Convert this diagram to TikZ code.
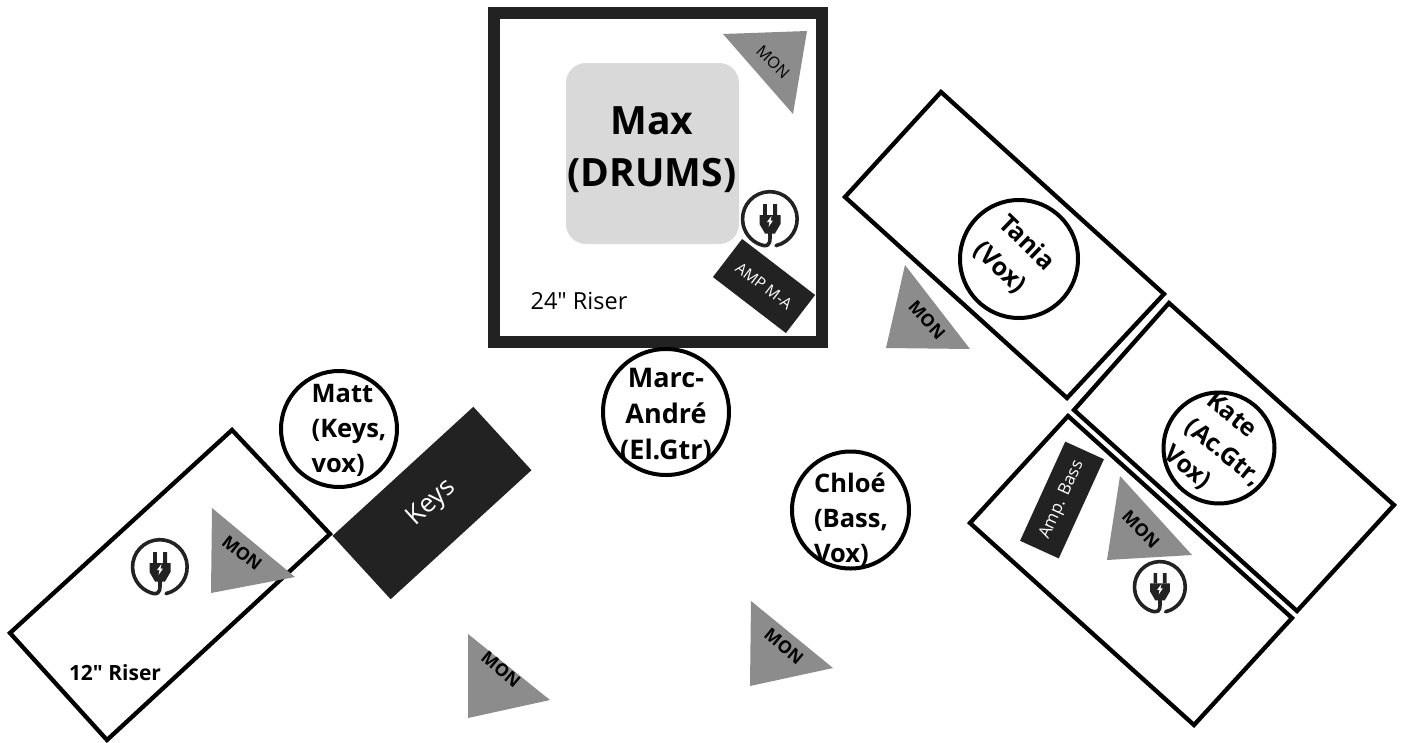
\documentclass[tikz,border=0pt]{standalone}
\usepackage{fontspec}
\setmainfont{Open Sans}
\newfontfamily\riserfont{Open Sans}
\tikzset{
	riser/.style={draw=black,line width=4.3pt,line join=miter,fill=white},
	ring/.style={circle,draw=black,line width=4pt,fill=white,inner sep=0pt},
	who/.style={text=black,inner sep=0pt,outer sep=0pt,align=left,font=\bfseries\fontsize{25.5}{35}\selectfont},
	mon/.style={fill=monColor},
	montext/.style={text=black,inner sep=0pt,outer sep=0pt,font=\bfseries\fontsize{17.5}{20}\selectfont},
	gear/.style={fill=gearColor,text=white,inner sep=0pt,outer sep=0pt,align=center},
	plugicon/.pic={
		\path[draw=gearColor,line width=3.6pt,line cap=round] (6,26.6) arc[start angle=77,end angle=-257,radius=27.3];
		\path[draw=gearColor,line width=3.6pt,line cap=round] (0,14) .. controls (0,21) and (1,27) .. (-6,26.6);
		\path[fill=gearColor] (-7,-15) rectangle (-3.2,-4) (3.2,-15) rectangle (7,-4);
		\path[fill=gearColor] (-10.5,-4) -- (10.5,-4) -- (10.5,5) -- (5,14.5) -- (-5,14.5) -- (-10.5,5) -- cycle;
		\path[fill=white] (1.5,-3) -- (-3,3) -- (-0.5,3) -- (-1.5,8) -- (3,1.5) -- (0.5,1.5) -- cycle;
	}
}
\begin{document}
\begin{tikzpicture}[x=1pt,y=-1pt]
\definecolor{gearColor}{RGB}{34,34,34}
\definecolor{monColor}{RGB}{140,140,140}
\definecolor{padColor}{RGB}{217,217,217}
\path[use as bounding box,fill=white] (0,0) rectangle (1406,742);

\path[draw=gearColor,line width=12pt,fill=white] (494,13) rectangle (822,342);

\path[fill=padColor,rounded corners=20pt] (566,63) rectangle (739,244);

\node[text=black,inner sep=0pt,outer sep=0pt,align=center,font=\bfseries\fontsize{39}{52}\selectfont] (max) at (652,150) {Max\\(DRUMS)};

\path[mon] (723,34) -- (807,31) -- (793,114) -- cycle;

\node[text=black,rotate=-44,inner sep=0pt,outer sep=0pt,font=\fontsize{16}{20}\selectfont] (monmax) at (773,62) {MON};

\pic at (770,219) {plugicon};

\node[gear,rotate=-37.5,minimum width=92pt,minimum height=48pt,font=\fontsize{15.5}{18}\selectfont] (ampma) at (764,286) {AMP M-A};

\node[text=black,inner sep=0pt,outer sep=0pt,font=\riserfont\fontsize{23.5}{28}\selectfont] (risertwo) at (579,301) {24" Riser};

\path[riser] (232,430) -- (330,534) -- (107,740) -- (10,633) -- cycle;

\node[text=black,inner sep=0pt,outer sep=0pt,font=\riserfont\bfseries\fontsize{21}{26}\selectfont] (riserone) at (115,673) {12" Riser};

\pic at (160,567) {plugicon};

\path[mon] (212,508) -- (295,577) -- (211,593) -- cycle;

\node[montext,rotate=-38] (monmatt) at (242,553) {MON};

\node[gear,rotate=42.5,minimum width=191pt,minimum height=86pt,font=\fontsize{26}{32}\selectfont] (keys) at (432,503) {Keys};

\node[ring,minimum size=116pt] (mattring) at (339,429) {};

\node[who] (matt) at (349,430) {Matt\\(Keys,\\vox)};

\node[ring,minimum size=126pt] (marcring) at (666,412) {};

\node[who,align=center,font=\bfseries\fontsize{27}{36}\selectfont] (marc) at (666,415.5) {Marc-\\André\\(El.Gtr)};

\node[ring,minimum size=117pt] (chloering) at (850.5,510) {};

\node[who] (chloe) at (851,519.5) {Chloé\\(Bass,\\Vox)};

\path[mon] (468,634) -- (550,700) -- (468,718) -- cycle;

\node[montext,rotate=-40] (monfloora) at (501,669) {MON};

\path[mon] (751,601) -- (833,668) -- (750,686) -- cycle;

\node[montext,rotate=-40] (monfloorb) at (784,646) {MON};

\path[riser] (941,92) -- (1164,294) -- (1067,398) -- (845,197) -- cycle;

\node[ring,minimum size=118pt] (taniaring) at (1019,259) {};

\node[who,rotate=-44,font=\bfseries\fontsize{25}{36}\selectfont] (tania) at (1014,256) {Tania\\(Vox)};

\path[mon] (905,265) -- (970,349) -- (886,348) -- cycle;

\node[montext,rotate=-48] (montania) at (927,320) {MON};

\path[riser] (1169,303) -- (1394,505) -- (1297,611) -- (1074,410) -- cycle;

\node[ring,minimum size=111pt] (katering) at (1219,448) {};

\node[who,rotate=-39,font=\bfseries\fontsize{24.5}{34}\selectfont] (kate) at (1223,453) {Kate\\(Ac.Gtr,\\Vox)};

\path[riser] (1068,416) -- (1292,618) -- (1194,725) -- (970,523) -- cycle;

\node[gear,rotate=65.5,minimum width=109pt,minimum height=42.5pt,font=\fontsize{17}{20}\selectfont] (ampbass) at (1062,500) {Amp. Bass};

\path[mon] (1120,476) -- (1192,555) -- (1107,560) -- cycle;

\node[montext,rotate=-46] (monkate) at (1141,529) {MON};

\pic[scale=.93] at (1160,587) {plugicon};
\end{tikzpicture}
\end{document}
